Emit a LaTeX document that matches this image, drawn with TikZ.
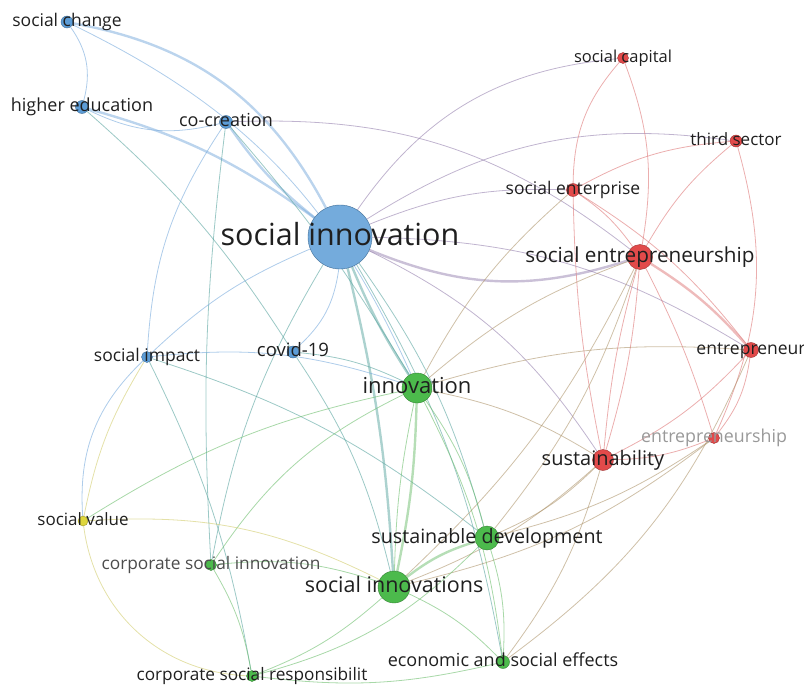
\documentclass[tikz,border=0pt]{standalone}
\usepackage{fontspec}
\setmainfont{Open Sans}
\usetikzlibrary{backgrounds}
\definecolor{kblue}{RGB}{92,156,214}
\definecolor{kred}{RGB}{226,74,74}
\definecolor{kgreen}{RGB}{76,186,76}
\definecolor{kyellow}{RGB}{222,214,60}
\definecolor{lblue}{RGB}{120,170,220}
\definecolor{lred}{RGB}{222,120,120}
\definecolor{lgreen}{RGB}{110,190,110}
\definecolor{lyellow}{RGB}{210,205,110}
\definecolor{lpurple}{RGB}{150,130,175}
\definecolor{lteal}{RGB}{90,165,160}
\definecolor{lolive}{RGB}{175,150,110}
\tikzset{kw/.style = {circle, inner sep = 0, minimum size = #1}}
\tikzset{lbl/.style = {anchor = base, yshift = {-0.27*#1pt}, text = black!88,
                       font = \fontsize{#1}{#1}\selectfont}}
\tikzset{lnk/.style = {line width = 0.8pt, opacity = 0.6}}
\tikzset{thk/.style = {line width = 2.4pt, opacity = 0.5}}

\begin{document}
\begin{tikzpicture}[x=1pt, y=-1pt]
    \useasboundingbox (0, 0) rectangle (804, 688);
    \clip (0, 0) rectangle (804, 688);

    \node [kw=12, fill=kblue, draw=kblue!70!black] (sc) at (67, 22) {};
    \node [kw=13, fill=kblue, draw=kblue!70!black] (he) at (82, 107) {};
    \node [kw=13, fill=kblue, draw=kblue!70!black] (cc) at (226, 122) {};
    \node [kw=64, fill=kblue!85, draw=kblue!70!black] (si) at (340, 237) {};
    \node [kw=11, fill=kblue, draw=kblue!70!black] (simp) at (147, 357) {};
    \node [kw=12, fill=kblue, draw=kblue!70!black] (cov) at (293, 352) {};
    \node [kw=30, fill=kgreen, draw=kgreen!70!black] (inn) at (417, 388) {};
    \node [kw=11, fill=kred, draw=kred!70!black] (scap) at (623, 58) {};
    \node [kw=12, fill=kred, draw=kred!70!black] (ts) at (736, 141) {};
    \node [kw=13, fill=kred, draw=kred!70!black] (se) at (573, 190) {};
    \node [kw=25, fill=kred, draw=kred!70!black] (sent) at (640, 257) {};
    \node [kw=15, fill=kred, draw=kred!70!black] (ent) at (751, 350) {};
    \node [kw=11, fill=kred, draw=kred!70!black] (eship) at (714, 438) {};
    \node [kw=21, fill=kred, draw=kred!70!black] (sus) at (603, 460) {};
    \node [kw=10, fill=kyellow, draw=kyellow!70!black] (sv) at (83, 521) {};
    \node [kw=11, fill=kgreen, draw=kgreen!70!black] (csi) at (211, 565) {};
    \node [kw=24, fill=kgreen, draw=kgreen!70!black] (sd) at (487, 538) {};
    \node [kw=32, fill=kgreen, draw=kgreen!70!black] (sis) at (394, 587) {};
    \node [kw=11, fill=kgreen, draw=kgreen!70!black] (csr) at (252, 676) {};
    \node [kw=13, fill=kgreen, draw=kgreen!70!black] (ese) at (503, 662) {};

    \begin{scope}[on background layer]
      \draw [thk, lblue] (sc) to [bend left=26] (si);
      \draw [lnk, lblue] (sc) to [bend left=20] (inn);
      \draw [lnk, lblue] (sc) to [bend left=25] (he);
      \draw [thk, lblue] (he) to [bend left=10] (si);
      \draw [lnk, lblue] (he) to [bend right=20] (cc);
      \draw [lnk, lteal] (he) to [bend left=8] (cov);
      \draw [thk, lblue] (cc) to [bend right=8] (si);
      \draw [lnk, lpurple] (cc) to [bend left=20] (sent);
      \draw [lnk, lblue] (cc) to [bend right=15] (simp);
      \draw [lnk, lteal] (cc) to [bend left=5] (inn);
      \draw [lnk, lteal] (cc) to [bend right=5] (csi);
      \draw [thk, lpurple] (si) to [bend right=20] (sent);
      \draw [lnk, lpurple] (si) to [bend left=20] (ts);
      \draw [lnk, lpurple] (si) to [bend left=25] (scap);
      \draw [lnk, lpurple] (si) to [bend left=12] (se);
      \draw [lnk, lpurple] (si) to [bend left=15] (ent);
      \draw [lnk, lpurple] (si) to [bend left=15] (sus);
      \draw [thk, lteal] (si) to [bend right=5] (inn);
      \draw [thk, lteal] (si) to [bend left=5] (sis);
      \draw [lnk, lteal] (si) to [bend left=10] (sd);
      \draw [lnk, lblue] (si) to [bend right=10] (simp);
      \draw [lnk, lblue] (si) to [bend left=20] (cov);
      \draw [lnk, lteal] (si) to [bend right=10] (csi);
      \draw [lnk, lteal] (si) to [bend left=10] (ese);
      \draw [lnk, lblue] (simp) to [bend left=12] (inn);
      \draw [lnk, lyellow] (simp) to [bend right=10] (sv);
      \draw [lnk, lblue] (simp) to [bend right=25] (sv);
      \draw [lnk, lteal] (simp) to [bend left=10] (sd);
      \draw [lnk, lteal] (simp) to [bend left=8] (csr);
      \draw [lnk, lteal] (cov) to [bend left=10] (inn);
      \draw [lnk, lteal] (cov) to [bend left=10] (sis);
      \draw [lnk, lred] (scap) to [bend right=20] (se);
      \draw [lnk, lred] (scap) to [bend left=15] (sent);
      \draw [lnk, lred] (ts) to [bend right=12] (se);
      \draw [lnk, lred] (ts) to [bend right=10] (sent);
      \draw [lnk, lred] (ts) to [bend left=20] (eship);
      \draw [lnk, lred] (se) to [bend left=10] (sent);
      \draw [lnk, lred] (se) to [bend right=5] (sus);
      \draw [lnk, lolive] (se) to [bend right=10] (inn);
      \draw [lnk, lred] (se) to [bend left=10] (ent);
      \draw [thk, lred] (sent) to [bend left=8] (ent);
      \draw [lnk, lred] (sent) to [bend right=5] (sus);
      \draw [lnk, lred] (sent) to [bend left=6] (sus);
      \draw [lnk, lred] (sent) to [bend left=5] (eship);
      \draw [lnk, lolive] (sent) to [bend right=10] (inn);
      \draw [lnk, lolive] (sent) to [bend left=10] (sis);
      \draw [lnk, lolive] (sent) to [bend left=10] (sd);
      \draw [lnk, lred] (ent) to [bend left=10] (sus);
      \draw [lnk, lred] (ent) to [bend left=15] (eship);
      \draw [lnk, lolive] (ent) to [bend right=10] (inn);
      \draw [lnk, lolive] (ent) to [bend left=15] (ese);
      \draw [lnk, lred] (sus) to [bend right=10] (eship);
      \draw [lnk, lolive] (sus) to [bend right=10] (inn);
      \draw [lnk, lolive] (sus) to [bend left=10] (sd);
      \draw [lnk, lolive] (sus) to [bend left=10] (sis);
      \draw [lnk, lolive] (sus) to [bend left=10] (ese);
      \draw [lnk, lolive] (eship) to [bend left=10] (sd);
      \draw [lnk, lolive] (eship) to [bend left=12] (sis);
      \draw [thk, lgreen] (inn) to [bend left=5] (sis);
      \draw [lnk, lgreen] (inn) to [bend right=5] (sis);
      \draw [lnk, lgreen] (inn) to [bend left=10] (sd);
      \draw [lnk, lgreen] (inn) to [bend left=10] (ese);
      \draw [lnk, lgreen] (inn) to [bend right=15] (csi);
      \draw [lnk, lgreen] (inn) to [bend right=10] (sv);
      \draw [thk, lgreen] (sis) to [bend left=10] (sd);
      \draw [lnk, lgreen] (sis) to [bend left=10] (ese);
      \draw [lnk, lgreen] (sis) to [bend right=12] (csi);
      \draw [lnk, lgreen] (sis) to [bend left=10] (csr);
      \draw [lnk, lgreen] (sd) to [bend left=10] (ese);
      \draw [lnk, lgreen] (sd) to [bend left=15] (csr);
      \draw [lnk, lgreen] (csi) to [bend left=10] (csr);
      \draw [lnk, lgreen] (csr) to [bend right=10] (ese);
      \draw [lnk, lyellow] (sv) to [bend right=40] (csr);
      \draw [lnk, lyellow] (sv) to [bend left=15] (sis);
    \end{scope}

    \node [lbl=17.5] at (sc) {social change};
    \node [lbl=18] at (he) {higher education};
    \node [lbl=18] at (cc) {co-creation};
    \node [lbl=30.5] at (si) {social innovation};
    \node [lbl=17.5] at (simp) {social impact};
    \node [lbl=18.5] at (cov) {covid-19};
    \node [lbl=22] at (inn) {innovation};
    \node [lbl=16.5] at (scap) {social capital};
    \node [lbl=17] at (ts) {third sector};
    \node [lbl=17.5] at (se) {social enterprise};
    \node [lbl=20.7] at (sent) {social entrepreneurship};
    \node [lbl=17.5] at (ent) {entrepreneur};
    \node [lbl=17.8, text=black!40] at (eship) {entrepreneurship};
    \node [lbl=20] at (sus) {sustainability};
    \node [lbl=17] at (sv) {social value};
    \node [lbl=17.3, text=black!70] at (csi) {corporate social innovation};
    \node [lbl=19.7] at (sd) {sustainable development};
    \node [lbl=21.5] at (sis) {social innovations};
    \node [lbl=17.2] at (csr) {corporate social responsibilit};
    \node [lbl=18] at (ese) {economic and social effects};
  \end{tikzpicture}
\end{document}
